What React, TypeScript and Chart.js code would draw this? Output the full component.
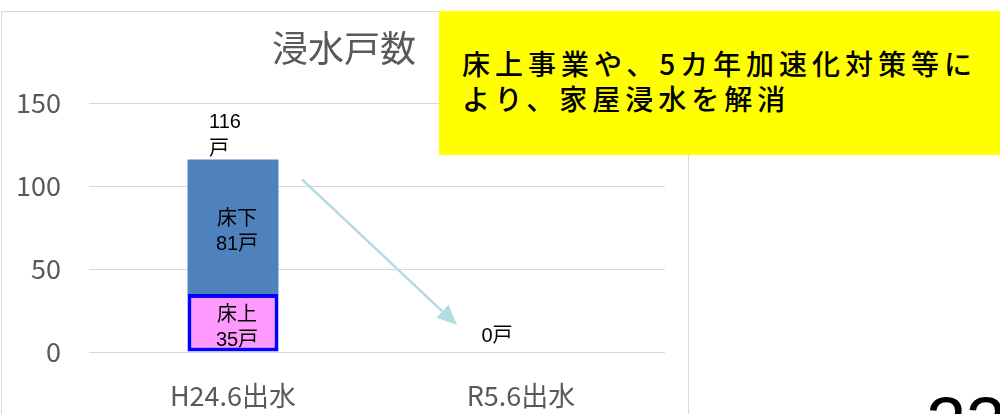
import React, { useEffect, useRef } from "react";
import { Chart, registerables } from "chart.js";

Chart.register(...registerables);

// ---- data ----
const categories = ["H24.6出水", "R5.6出水"];
const segmentNames = ["床上", "床下"];
const floorAbove = [35, 0]; // 床上浸水
const floorBelow = [81, 0]; // 床下浸水
const yTicks = [0, 50, 100, 150];
const chartTitle = "浸水戸数";
const unit = "戸";
const noteLines = ["床上事業や、5カ年加速化対策等に", "より、家屋浸水を解消"];
const pageNumber = "23";

const AXIS_FONT = '"Noto Sans CJK JP", "Noto Sans", sans-serif';
const LABEL_FONT = '"Liberation Sans", "Noto Sans CJK JP", sans-serif';
const GRAY = "#595959";

const labelPlugin = {
  id: "barLabels",
  afterDatasetsDraw(chart: any) {
    const ctx = chart.ctx;
    const xs = chart.scales.x;
    const ys = chart.scales.y;
    ctx.save();
    ctx.fillStyle = "#000";
    ctx.font = "20px " + LABEL_FONT;
    ctx.textBaseline = "middle";
    // segment labels
    chart.data.datasets.forEach((ds: any, di: number) => {
      const meta = chart.getDatasetMeta(di);
      meta.data.forEach((el: any, i: number) => {
        const v = ds.data[i];
        if (!v) return;
        const p = el.getProps(["x", "y", "base"], true);
        const cy = (p.y + p.base) / 2;
        ctx.textAlign = "center";
        ctx.fillText(segmentNames[di], p.x + 4, cy - 7);
        ctx.fillText(v + unit, p.x + 4, cy + 18);
      });
    });
    // totals
    categories.forEach((_c, i) => {
      const total = floorAbove[i] + floorBelow[i];
      const x = xs.getPixelForValue(i);
      const yTop = ys.getPixelForValue(total);
      if (total > 0) {
        ctx.textAlign = "left";
        ctx.fillText(String(total), x - 24, yTop - 37);
        ctx.fillText(unit, x - 24, yTop - 10);
      } else {
        ctx.textAlign = "center";
        ctx.fillText(total + unit, x - 24, yTop - 16);
      }
    });
    // arrow from first bar to second category
    const t0 = floorAbove[0] + floorBelow[0];
    const t1 = floorAbove[1] + floorBelow[1];
    const x0 = xs.getPixelForValue(0) + 69;
    const y0 = ys.getPixelForValue(t0) + 20;
    const x1 = xs.getPixelForValue(1) - 64;
    const y1 = ys.getPixelForValue(t1) - 27;
    const ang = Math.atan2(y1 - y0, x1 - x0);
    const headLen = 20;
    const headW = 9;
    const bx = x1 - headLen * Math.cos(ang);
    const by = y1 - headLen * Math.sin(ang);
    ctx.strokeStyle = "#B4DCE0";
    ctx.fillStyle = "#B4DCE0";
    ctx.lineWidth = 2.5;
    ctx.beginPath();
    ctx.moveTo(x0, y0);
    ctx.lineTo(bx, by);
    ctx.stroke();
    ctx.beginPath();
    ctx.moveTo(x1, y1);
    ctx.lineTo(bx + headW * Math.sin(ang), by - headW * Math.cos(ang));
    ctx.lineTo(bx - headW * Math.sin(ang), by + headW * Math.cos(ang));
    ctx.closePath();
    ctx.fill();
    ctx.restore();
  },
};

export default function App() {
  const ref = useRef<HTMLCanvasElement>(null);
  useEffect(() => {
    if (!ref.current) return;
    const chart = new Chart(ref.current, {
      type: "bar",
      data: {
        labels: categories,
        datasets: [
          {
            label: segmentNames[0],
            data: floorAbove,
            backgroundColor: "#FF99FF",
            borderColor: "#0000FF",
            borderWidth: (c: any) => (c.raw ? 4 : 0),
            borderSkipped: false,
            barPercentage: 0.316,
            categoryPercentage: 1,
          },
          {
            label: segmentNames[1],
            data: floorBelow,
            backgroundColor: "#4F81BD",
            borderWidth: 0,
            barPercentage: 0.316,
            categoryPercentage: 1,
          },
        ],
      },
      options: {
        animation: false,
        responsive: false,
        maintainAspectRatio: false,
        layout: { padding: 0 },
        plugins: {
          legend: { display: false },
          tooltip: { enabled: false },
          title: {
            display: true,
            text: chartTitle,
            color: GRAY,
            font: { family: AXIS_FONT, size: 36, weight: "normal" },
            padding: { top: 27, bottom: 32.8 },
          },
        },
        scales: {
          x: {
            stacked: true,
            grid: { display: false },
            border: { display: false },
            ticks: { color: GRAY, font: { family: AXIS_FONT, size: 27 }, padding: 20 },
            afterFit: (s: any) => {
              s.height = 62;
            },
          },
          y: {
            stacked: true,
            min: 0,
            max: 150,
            afterBuildTicks: (s: any) => {
              s.ticks = yTicks.map((v) => ({ value: v }));
            },
            ticks: { color: GRAY, font: { family: AXIS_FONT, size: 27 }, padding: 28 },
            grid: { color: "#D9D9D9", lineWidth: 1, drawTicks: false },
            border: { display: false },
            afterFit: (s: any) => {
              s.width = 89;
            },
          },
          yRight: {
            position: "right",
            display: true,
            grid: { display: false },
            border: { display: false },
            ticks: { display: false },
            afterFit: (s: any) => {
              s.width = 23;
            },
          },
        },
      } as any,
      plugins: [labelPlugin],
    });
    return () => chart.destroy();
  }, []);

  return (
    <div
      style={{
        position: "absolute",
        left: 0,
        top: 0,
        width: 1000,
        height: 414,
        overflow: "hidden",
        background: "#fff",
      }}
    >
      <div
        style={{
          position: "absolute",
          left: 1,
          top: 11,
          width: 686,
          height: 420,
          border: "1px solid #D9D9D9",
        }}
      />
      <canvas
        ref={ref}
        width={688}
        height={414}
        style={{ position: "absolute", left: 0, top: 0, width: 688, height: 414 }}
      />
      <div
        style={{
          position: "absolute",
          left: 439,
          top: 11,
          width: 570,
          height: 144,
          background: "#FFFF00",
          boxSizing: "border-box",
          paddingLeft: 23,
          paddingTop: 35,
          fontFamily: '"Noto Sans CJK JP", sans-serif',
          fontSize: 28,
          fontWeight: 500,
          lineHeight: "35px",
          letterSpacing: "5px",
          color: "#000",
          whiteSpace: "nowrap",
        }}
      >
        {noteLines.map((l, i) => (
          <div key={i}>{l}</div>
        ))}
      </div>
      <div
        style={{
          position: "absolute",
          left: 926,
          top: 387,
          fontFamily: '"Liberation Sans", Arial, sans-serif',
          fontSize: 72,
          lineHeight: 1,
          color: "#000",
        }}
      >
        {pageNumber}
      </div>
    </div>
  );
}
